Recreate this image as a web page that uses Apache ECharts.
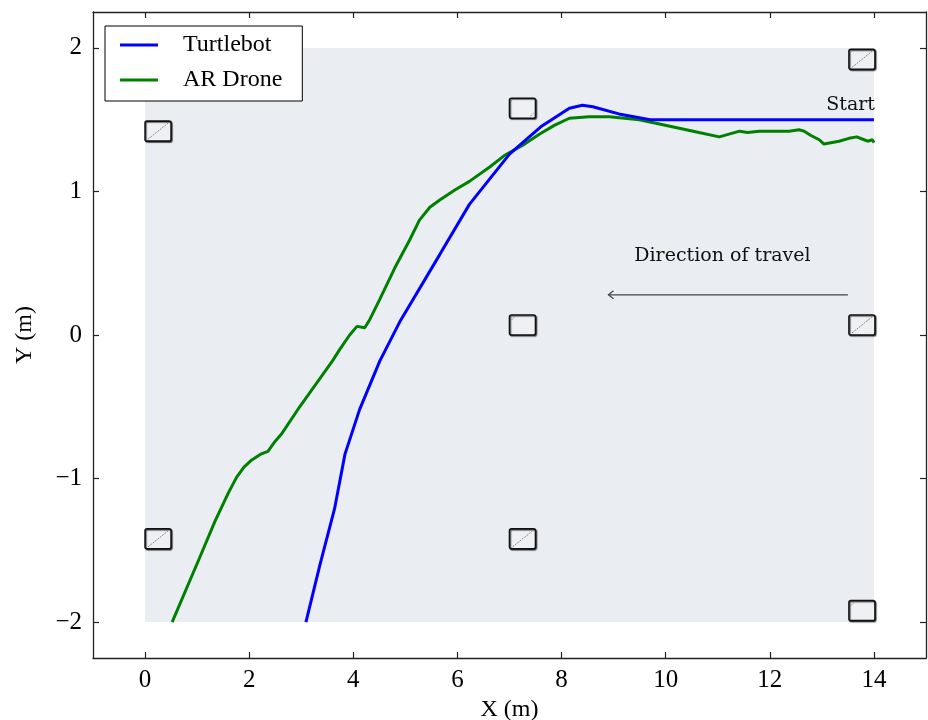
<!DOCTYPE html>
<html lang="en">
<head>
  <meta charset="UTF-8">
  <title>Trajectories</title>
  <style>
    html, body { margin: 0; padding: 0; background: #fff; }
    #chart { width: 928px; height: 720px; }
  </style>
  <script src="https://cdn.jsdelivr.net/npm/echarts@6/dist/echarts.min.js"></script>
</head>
<body>
  <div id="chart"></div>
  <script>
    // ground truth of the turtlebot (x, y in m)
    var turtleX = [14, 12, 10.5, 9.7, 9.1, 8.6, 8.4, 8.15, 7.6, 7.0, 6.23, 5.66, 4.89, 4.51, 4.12, 3.84, 3.64, 3.36, 3.09];
    var turtleY = [1.5, 1.5, 1.5, 1.5, 1.54, 1.59, 1.6, 1.58, 1.45, 1.26, 0.91, 0.56, 0.09, -0.18, -0.52, -0.83, -1.21, -1.6, -2.0];

    // AR drone estimate
    var droneX = [14, 13.97, 13.94, 13.88, 13.81, 13.67, 13.52, 13.33, 13.04, 12.95, 12.79, 12.66, 12.56, 12.37, 11.99, 11.8, 11.57, 11.42, 11.03, 10.64, 10.26, 9.88, 9.49, 8.92, 8.53, 8.15, 7.86, 7.58, 7.29, 6.9, 6.62, 6.23, 5.95, 5.66, 5.47, 5.27, 5.08, 4.8, 4.51, 4.32, 4.22, 4.07, 3.93, 3.74, 3.6, 2.97, 2.62, 2.5, 2.36, 2.22, 2.05, 1.9, 1.76, 1.6, 1.34, 1.05, 0.52];
    var droneY = [1.34, 1.36, 1.36, 1.35, 1.36, 1.38, 1.37, 1.35, 1.33, 1.36, 1.39, 1.42, 1.43, 1.42, 1.42, 1.42, 1.41, 1.42, 1.38, 1.41, 1.44, 1.47, 1.5, 1.52, 1.52, 1.51, 1.46, 1.4, 1.33, 1.25, 1.17, 1.07, 1.01, 0.94, 0.89, 0.8, 0.66, 0.47, 0.25, 0.11, 0.05, 0.06, 0.0, -0.1, -0.18, -0.5, -0.69, -0.74, -0.81, -0.83, -0.87, -0.92, -0.99, -1.1, -1.3, -1.55, -2.0];

    // tags laid out on the floor
    var tagX = [0.25, 7.25, 13.77, 7.25, 13.77, 0.25, 7.25, 13.77];
    var tagY = [1.42, 1.58, 1.92, 0.07, 0.07, -1.42, -1.42, -1.92];
    var tagMark = ['full', 'br', 'full', 'tl', 'full', 'full', 'full', 'tl'];

    var fieldX = [0, 14];
    var fieldY = [-2, 2];

    var xTicks = [0, 2, 4, 6, 8, 10, 12, 14];
    var yTicks = [-2, -1, 0, 1, 2];

    function zip(xs, ys) {
      return xs.map(function (x, i) { return [x, ys[i]]; });
    }

    var chart = echarts.init(document.getElementById('chart'));
    var serif = 'Liberation Serif';
    var cm = 'DejaVu Serif';

    function minus(v) { return String(v).replace('-', '\u2212'); }

    var axisLineStyle = { color: '#222', width: 1.3 };
    var tickStyle = { color: '#222', width: 1.2 };

    var option = {
      animation: false,
      backgroundColor: '#fff',
      grid: { left: 93, right: 2, top: 12, bottom: 62, containLabel: false, outerBoundsMode: 'none' },
      legend: {
        left: 105, top: 26,
        orient: 'vertical',
        backgroundColor: '#fff',
        borderColor: '#000', borderWidth: 1, borderRadius: 0,
        padding: [7, 20, 9, 15],
        itemGap: 11,
        itemWidth: 38, itemHeight: 3,
        icon: 'rect',
        textStyle: { fontFamily: serif, fontSize: 24, color: '#000', lineHeight: 24, padding: [0, 0, 0, 20] },
        data: ['Turtlebot', 'AR Drone']
      },
      xAxis: [{
        type: 'value', min: -1, max: 15, position: 'bottom',
        name: 'X (m)', nameLocation: 'middle', nameGap: 40,
        nameTextStyle: { fontFamily: serif, fontSize: 24, color: '#000' },
        axisLine: { onZero: false, lineStyle: axisLineStyle },
        axisTick: { inside: true, length: 6, customValues: xTicks, lineStyle: tickStyle },
        axisLabel: { customValues: xTicks, margin: 10, fontFamily: serif, fontSize: 25, color: '#000', formatter: minus },
        splitLine: { show: false }
      }, {
        type: 'value', min: -1, max: 15, position: 'top',
        axisLine: { onZero: false, lineStyle: axisLineStyle },
        axisTick: { inside: true, length: 6, customValues: xTicks, lineStyle: tickStyle },
        axisLabel: { show: false },
        splitLine: { show: false }
      }],
      yAxis: [{
        type: 'value', min: -2.25, max: 2.25, position: 'left',
        name: 'Y (m)', nameLocation: 'middle', nameGap: 56,
        nameTextStyle: { fontFamily: serif, fontSize: 24, color: '#000' },
        axisLine: { show: true, onZero: false, lineStyle: axisLineStyle },
        axisTick: { show: true, inside: true, length: 6, customValues: yTicks, lineStyle: tickStyle },
        axisLabel: { customValues: yTicks, margin: 11, fontFamily: serif, fontSize: 25, color: '#000', formatter: minus },
        splitLine: { show: false }
      }, {
        type: 'value', min: -2.25, max: 2.25, position: 'right',
        axisLine: { show: true, onZero: false, lineStyle: axisLineStyle },
        axisTick: { show: true, inside: true, length: 6, customValues: yTicks, lineStyle: tickStyle },
        axisLabel: { show: false },
        splitLine: { show: false }
      }],
      series: [
        {
          // shaded floor area
          type: 'custom', silent: true, z: 1,
          data: [[fieldX[0], fieldY[0], fieldX[1], fieldY[1]]],
          renderItem: function (params, api) {
            var p0 = api.coord([api.value(0), api.value(3)]);
            var p1 = api.coord([api.value(2), api.value(1)]);
            return {
              type: 'rect',
              shape: { x: p0[0], y: p0[1], width: p1[0] - p0[0], height: p1[1] - p0[1] },
              style: { fill: '#eaedf2' }
            };
          }
        },
        {
          // tags
          type: 'custom', silent: true, z: 2,
          data: tagX.map(function (x, i) { return [x, tagY[i], i]; }),
          renderItem: function (params, api) {
            var c = api.coord([api.value(0), api.value(1)]);
            var w = 26, h = 20;
            var x0 = c[0] - w / 2, y0 = c[1] - h / 2;
            var kind = tagMark[api.value(2)];
            var children = [{
              type: 'rect',
              shape: { x: x0, y: y0, width: w, height: h, r: 2 },
              style: { fill: '#eef0f3', stroke: '#111', lineWidth: 1.6, shadowColor: 'rgba(0,0,0,0.55)', shadowBlur: 1, shadowOffsetX: 1, shadowOffsetY: 1 }
            }];
            var seg = null;
            if (kind === 'full') seg = [x0 + 3, y0 + h - 2, x0 + w - 3, y0 + 2];
            else if (kind === 'br') seg = [x0 + w - 5, y0 + h - 2, x0 + w - 2, y0 + h - 5];
            else if (kind === 'tl') seg = [x0 + 2, y0 + 5, x0 + 5, y0 + 2];
            if (seg) {
              children.push({
                type: 'line',
                shape: { x1: seg[0], y1: seg[1], x2: seg[2], y2: seg[3] },
                style: { stroke: '#8a8a8a', lineWidth: 1, lineDash: [2, 1] }
              });
            }
            return { type: 'group', children: children };
          }
        },
        {
          // annotations
          type: 'custom', silent: true, z: 3,
          data: [[14, 1.6, 11.09, 0.55, 13.5, 8.9, 0.28]],
          renderItem: function (params, api) {
            var s = api.coord([api.value(0), api.value(1)]);
            var d = api.coord([api.value(2), api.value(3)]);
            var a0 = api.coord([api.value(4), api.value(6)]);
            var a1 = api.coord([api.value(5), api.value(6)]);
            return {
              type: 'group',
              children: [
                { type: 'text', style: { x: s[0] + 1, y: s[1], text: 'Start', fill: '#111', font: '19px "' + cm + '"', align: 'right', verticalAlign: 'middle' } },
                { type: 'text', style: { x: d[0], y: d[1], text: 'Direction of travel', fill: '#111', font: '19px "' + cm + '"', align: 'center', verticalAlign: 'middle' } },
                { type: 'line', shape: { x1: a0[0], y1: a0[1], x2: a1[0], y2: a1[1] }, style: { stroke: '#444', lineWidth: 1.2 } },
                { type: 'polyline', shape: { points: [[a1[0] + 5, a1[1] - 4], [a1[0], a1[1]], [a1[0] + 5, a1[1] + 4]] }, style: { stroke: '#444', lineWidth: 1.2, fill: null } }
              ]
            };
          }
        },
        {
          name: 'Turtlebot', type: 'line', z: 5,
          data: zip(turtleX, turtleY),
          symbol: 'none', smooth: false,
          itemStyle: { color: '#0000ff' },
          lineStyle: { color: '#0000ff', width: 3 }
        },
        {
          name: 'AR Drone', type: 'line', z: 4,
          data: zip(droneX, droneY),
          symbol: 'none', smooth: false,
          itemStyle: { color: '#008000' },
          lineStyle: { color: '#008000', width: 3 }
        }
      ]
    };

    chart.setOption(option);
  </script>
</body>
</html>
